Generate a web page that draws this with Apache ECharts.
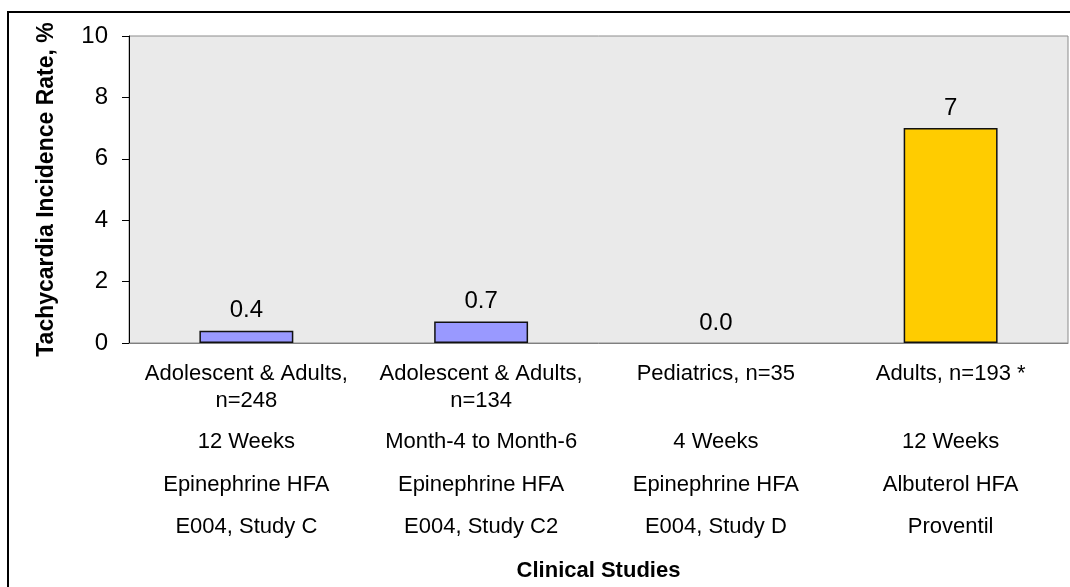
<!DOCTYPE html>
<html>
<head>
<meta charset="utf-8">
<script src="https://cdn.jsdelivr.net/npm/echarts@6/dist/echarts.min.js"></script>
<style>
  html, body { margin: 0; padding: 0; background: #ffffff; }
  #chart { width: 1070px; height: 587px; }
</style>
</head>
<body>
<div id="chart"></div>
<script>
// Study descriptors shown under each bar (one array per text row)
const populationLine1 = ['Adolescent & Adults,', 'Adolescent & Adults,', 'Pediatrics, n=35', 'Adults, n=193 *'];
const populationLine2 = ['n=248', 'n=134', '', ''];
const durations = ['12 Weeks', 'Month-4 to Month-6', '4 Weeks', '12 Weeks'];
const products = ['Epinephrine HFA', 'Epinephrine HFA', 'Epinephrine HFA', 'Albuterol HFA'];
const studies = ['E004, Study C', 'E004, Study C2', 'E004, Study D', 'Proventil'];

// Tachycardia incidence, % of subjects
const rates = [0.4, 0.7, 0.0, 7];
const rateDecimals = [1, 1, 1, 0];
const barColors = ['#9999ff', '#9999ff', '#9999ff', '#ffcc00'];

// Value axis range
const yMin = 0, yMax = 10, yStep = 2;

const FONT = '"Liberation Sans", Arial, Helvetica, sans-serif';

const chart = echarts.init(document.getElementById('chart'), null, { renderer: 'canvas' });

chart.setOption({
  backgroundColor: '#ffffff',
  animation: false,
  textStyle: { fontFamily: FONT, color: '#000000' },
  graphic: [{
    type: 'rect',
    silent: true,
    shape: { x: 8, y: 12, width: 1100, height: 620 },
    style: { fill: 'none', stroke: '#000000', lineWidth: 2 }
  }],
  grid: {
    left: 129, right: 2, top: 36, bottom: 244,
    show: true,
    backgroundColor: '#eaeaea',
    borderColor: '#8c8c8c',
    borderWidth: 1
  },
  xAxis: {
    type: 'category',
    data: studies,
    name: 'Clinical Studies',
    nameLocation: 'middle',
    nameGap: 217,
    nameTextStyle: { fontFamily: FONT, fontSize: 22, fontWeight: 'bold', color: '#000000' },
    axisLine: { show: true, lineStyle: { color: '#808080', width: 1 } },
    axisTick: { show: false },
    axisLabel: {
      interval: 0,
      margin: 17,
      color: '#000000',
      formatter: function (value, i) {
        return '{p|' + populationLine1[i] + '}\n' +
               '{p|' + (populationLine2[i] || ' ') + '}\n' +
               '{s| }\n' +
               '{r|' + durations[i] + '}\n' +
               '{r|' + products[i] + '}\n' +
               '{r|' + studies[i] + '}';
      },
      rich: {
        p: { fontFamily: FONT, fontSize: 22, lineHeight: 27, color: '#000000' },
        s: { fontFamily: FONT, fontSize: 2, lineHeight: 7 },
        r: { fontFamily: FONT, fontSize: 22, lineHeight: 42.5, color: '#000000' }
      }
    },
    splitLine: { show: false }
  },
  yAxis: {
    type: 'value',
    min: yMin, max: yMax, interval: yStep,
    name: 'Tachycardia Incidence Rate, %',
    nameLocation: 'middle',
    nameRotate: 90,
    nameGap: 71,
    nameTextStyle: { fontFamily: FONT, fontSize: 23, fontWeight: 'bold', color: '#000000' },
    axisLine: { show: true, lineStyle: { color: '#000000', width: 1 } },
    axisTick: { show: true, length: 7, lineStyle: { color: '#000000', width: 1 } },
    axisLabel: { fontFamily: FONT, fontSize: 24, color: '#000000', margin: 21 },
    splitLine: { show: false }
  },
  series: [{
    type: 'bar',
    barWidth: '40%',
    data: rates.map(function (v, i) {
      return {
        value: v,
        itemStyle: { color: barColors[i], borderColor: '#111111', borderWidth: v > 0 ? 1.5 : 0 }
      };
    }),
    label: {
      show: true,
      position: 'top',
      distance: 8,
      fontFamily: FONT,
      fontSize: 24,
      color: '#000000',
      formatter: function (p) {
        return rates[p.dataIndex].toFixed(rateDecimals[p.dataIndex]);
      }
    }
  }]
});
</script>
</body>
</html>
